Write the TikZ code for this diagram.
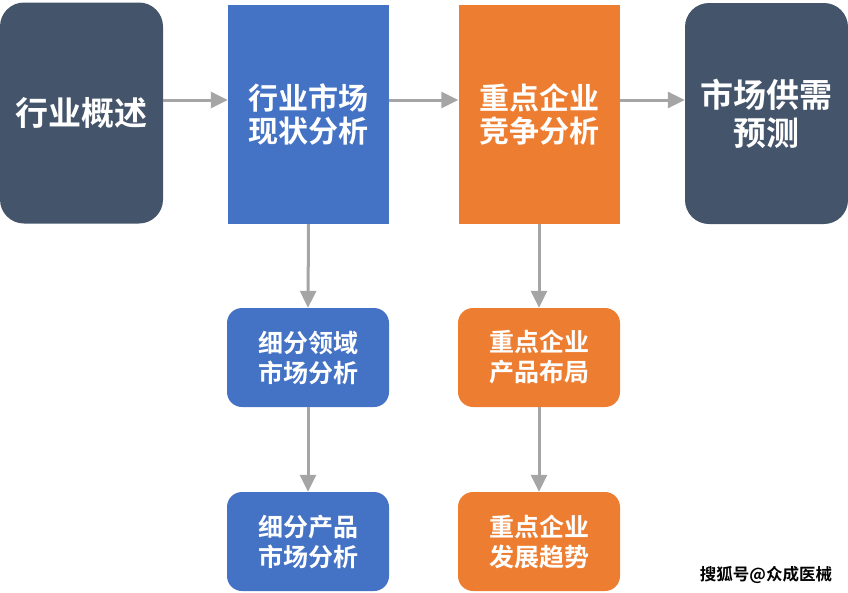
\documentclass[tikz,border=0pt]{standalone}
\usepackage{fontspec}
\setmainfont{Noto Sans CJK SC}[BoldFont={* Bold}]
\newfontfamily\cjkb{Noto Sans CJK SC Bold}
\usetikzlibrary{arrows.meta}
\definecolor{slate}{HTML}{44546A}
\definecolor{cblue}{HTML}{4472C4}
\definecolor{corange}{HTML}{ED7D31}
\definecolor{cgray}{HTML}{A5A5A5}
\tikzset{
  bigbox/.style={minimum width=163pt, minimum height=221pt, inner sep=0pt, text=white, align=center, font=\cjkb\fontsize{33}{38}\selectfont},
  midbox/.style={minimum width=161pt, minimum height=219pt, inner sep=0pt, text=white, align=center, font=\cjkb\fontsize{30}{33}\selectfont},
  smallbox/.style={minimum width=162pt, minimum height=99pt, inner sep=0pt, text=white, align=center, rounded corners=15pt, font=\cjkb\fontsize{25}{30}\selectfont},
  conn/.style={draw=cgray, line width=3pt, -{Triangle[length=17pt,width=16pt]}},
}
\begin{document}
\begin{tikzpicture}[x=1pt,y=-1pt]
\useasboundingbox (0,0) rectangle (848,592);
\node[bigbox, fill=slate, rounded corners=24pt] (n1) at (81.5,113) {行业概述};
\node[midbox, fill=cblue] (n2) at (308.5,114.5) {行业市场\\现状分析};
\node[midbox, fill=corange] (n3) at (539,114.5) {重点企业\\竞争分析};
\node[bigbox, fill=slate, rounded corners=24pt] (n4) at (766.5,113.5) {市场供需\\预测};
\node[smallbox, fill=cblue] (a1) at (308,357.5) {细分领域\\市场分析};
\node[smallbox, fill=cblue] (a2) at (308,541.5) {细分产品\\市场分析};
\node[smallbox, fill=corange] (b1) at (539,357.5) {重点企业\\产品布局};
\node[smallbox, fill=corange] (b2) at (539,541.5) {重点企业\\发展趋势};
\draw[conn] (n1.east |- 0,100) -- (n2.west |- 0,100);
\draw[conn] (n2.east |- 0,100) -- (n3.west |- 0,100);
\draw[conn] (n3.east |- 0,100) -- (n4.west |- 0,100);
\draw[conn] (n2.south) -- (a1.north);
\draw[conn] (a1.south) -- (a2.north);
\draw[conn] (n3.south) -- (b1.north);
\draw[conn] (b1.south) -- (b2.north);
\node[font=\cjkb\fontsize{16.5}{18}\selectfont, text=black, inner sep=0pt] (wm) at (766,575) {搜狐号@众成医械};
\end{tikzpicture}
\end{document}
